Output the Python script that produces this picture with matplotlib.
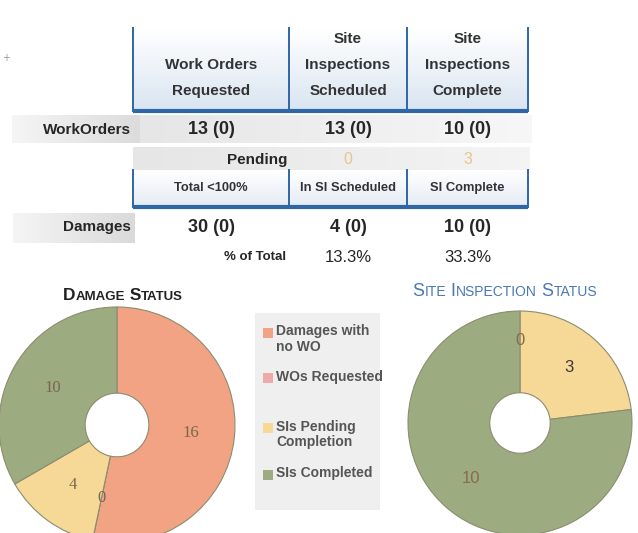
import numpy as np
import matplotlib
matplotlib.use("Agg")
import matplotlib.pyplot as plt
from matplotlib.patches import Rectangle
from matplotlib.offsetbox import TextArea, HPacker, AnnotationBbox
from matplotlib.colors import to_rgba

# ---------------- data ----------------
header_cols = [["Work Orders", "Requested"],
               ["Site", "Inspections", "Scheduled"],
               ["Site", "Inspections", "Complete"]]
workorders_vals = ["13 (0)", "13 (0)", "10 (0)"]
pending_vals = ["0", "3"]
sub_cols = ["Total <100%", "In SI Scheduled", "SI Complete"]
damages_vals = ["30 (0)", "4 (0)", "10 (0)"]
pct_vals = ["13.3%", "33.3%"]

damage_labels = ["Damages with no WO", "WOs Requested", "SIs Pending Completion", "SIs Completed"]
damage_values = [16, 0, 4, 10]
legend_text = ["Damages with\nno WO", "WOs Requested", "SIs Pending\nCompletion", "SIs Completed"]
site_values = [0, 3, 10]

col_salmon = "#f2a384"
col_pink = "#f0a9a9"
col_yellow = "#f6d897"
col_green = "#9dab80"
damage_colors = [col_salmon, col_pink, col_yellow, col_green]
site_colors = [col_salmon, col_yellow, col_green]

W, H = 638, 533
fig = plt.figure(figsize=(W / 100, H / 100), dpi=100)
fig.patch.set_facecolor("white")
ax = fig.add_axes([0, 0, 1, 1])
ax.set_xlim(0, W)
ax.set_ylim(H, 0)
ax.axis("off")

FN = ["Liberation Sans", "DejaVu Sans"]
blue = "#2f66a6"
txt = "#262626"


def grad(x0, x1, y0, y1, c0, c1, vertical=True, z=0):
    n = 64
    a0 = np.array(to_rgba(c0))
    a1 = np.array(to_rgba(c1))
    t = np.linspace(0, 1, n)
    g = a0[None, :] * (1 - t[:, None]) + a1[None, :] * t[:, None]
    img = g[:, None, :] if vertical else g[None, :, :]
    ax.imshow(img, extent=(x0, x1, y1, y0), origin="upper", aspect="auto",
              interpolation="bilinear", zorder=z)


# column geometry
xs = [133, 289, 407, 528]
cx = [(xs[i] + xs[i + 1]) / 2 for i in range(3)]

# header block
grad(xs[0], xs[3], 28, 111, "#ffffff", "#d9e5f1", z=0)
for x in xs:
    ax.plot([x, x], [28, 111], color=blue, lw=1.4, zorder=2)
ax.plot([xs[0], xs[3]], [111, 111], color=blue, lw=3, zorder=2, solid_capstyle="butt")
for c, lines in zip(cx, header_cols):
    n = len(lines)
    for i, line in enumerate(lines):
        y = 91 - 26 * (n - 1 - i)
        ax.text(c, y, line, ha="center", va="center", fontsize=11, family=FN,
                fontweight="bold", color="#333333")

# WorkOrders row
grad(12, 140, 115, 143, "#f5f5f5", "#dcdcdc", vertical=False, z=0)
grad(140, 532, 115, 143, "#e6e6e6", "#f7f7f7", vertical=False, z=0)
ax.text(131, 130, "WorkOrders", ha="right", va="center", fontsize=11, family=FN,
        fontweight="bold", color=txt)
for c, v in zip(cx, workorders_vals):
    ax.text(c, 130, v, ha="center", va="center", fontsize=13, family=FN,
            fontweight="bold", color=txt)

# Pending row
grad(133, 530, 147, 170, "#e6e6e6", "#f4f4f4", vertical=False, z=0)
ax.text(287, 160, "Pending", ha="right", va="center", fontsize=11, family=FN,
        fontweight="bold", color=txt)
for c, v in zip(cx[1:], pending_vals):
    ax.text(c, 160, v, ha="center", va="center", fontsize=11.5, family=FN, color="#e6c68a")

# sub header block
grad(xs[0], xs[3], 170, 207, "#ffffff", "#e4ecf5", z=0)
for x in xs:
    ax.plot([x, x], [170, 207], color=blue, lw=1.4, zorder=2)
ax.plot([xs[0], xs[3]], [207, 207], color=blue, lw=3, zorder=2, solid_capstyle="butt")
for c, t in zip(cx, sub_cols):
    ax.text(c, 188, t, ha="center", va="center", fontsize=9.3, family=FN,
            fontweight="bold", color="#333333")

# Damages row
grad(13, 135, 213, 243, "#f5f5f5", "#dadada", vertical=False, z=0)
ax.text(131, 227, "Damages", ha="right", va="center", fontsize=11, family=FN,
        fontweight="bold", color=txt)
for c, v in zip(cx, damages_vals):
    ax.text(c, 227, v, ha="center", va="center", fontsize=13, family=FN,
            fontweight="bold", color=txt)

# % of Total row
ax.text(286, 257, "% of Total", ha="right", va="center", fontsize=9.5, family=FN,
        fontweight="bold", color=txt)
for c, v in zip(cx[1:], pct_vals):
    ax.text(c, 257, v, ha="center", va="center", fontsize=12, family=FN, color=txt)

ax.text(6, 58, "+", ha="center", va="center", fontsize=7, color="#999999")


# small-caps titles
def smallcaps(x, y, words, color, big=13, small=10, weight="normal"):
    parts = []
    for i, w in enumerate(words):
        lead = (" " if i else "") + w[0]
        parts.append(TextArea(lead, textprops=dict(fontsize=big, family=FN, color=color,
                                                    fontweight=weight)))
        parts.append(TextArea(w[1:], textprops=dict(fontsize=small, family=FN, color=color,
                                                     fontweight=weight)))
    pack = HPacker(children=parts, align="baseline", pad=0, sep=0)
    ab = AnnotationBbox(pack, (x, y), xycoords="data", frameon=False,
                        box_alignment=(0.5, 0.5), pad=0)
    ax.add_artist(ab)


smallcaps(123, 296, ["DAMAGE", "STATUS"], "#222222", big=12.5, small=9.5, weight="bold")
smallcaps(505, 291, ["SITE", "INSPECTION", "STATUS"], "#4a78b4", big=13, small=10)

# legend panel
ax.add_patch(Rectangle((255, 313), 125, 197, facecolor="#efefef", edgecolor="none", zorder=0))
leg_y = [333, 378, 428, 475]
for y, lab, col in zip(leg_y, legend_text, damage_colors):
    ax.add_patch(Rectangle((263, y - 5), 10, 10, facecolor=col, edgecolor="none", zorder=2))
    ax.text(276, y - 8.5, lab, ha="left", va="top", fontsize=10, family=FN,
            fontweight="bold", color="#555555", linespacing=1.1)


# donuts
def donut(cx_, cy_, R, values, colors, pctd=0.63):
    a = fig.add_axes([(cx_ - R) / W, (H - cy_ - R) / H, 2 * R / W, 2 * R / H])
    tot = sum(values)
    wedges, _, autotexts = a.pie(
        values, colors=colors, startangle=90, counterclock=False,
        wedgeprops=dict(width=0.73, edgecolor="#8c8c70", linewidth=0.8),
        autopct=lambda p: f"{round(p * tot / 100)}", pctdistance=pctd, radius=1)
    a.set_xlim(-1, 1)
    a.set_ylim(-1, 1)
    a.axis("off")
    return autotexts


tL = donut(117, 425, 118, damage_values, damage_colors)
for t in tL:
    t.set_fontfamily(["Liberation Serif", "DejaVu Serif"])
    t.set_fontsize(12)
    t.set_color("#7a6552")

tR = donut(520, 423, 112, site_values, site_colors, pctd=0.66)
tR[0].set_position((0.0, 0.74))
for t in tR:
    t.set_fontfamily(["Liberation Sans", "DejaVu Sans"])
    t.set_fontsize(12)
    t.set_color("#8a6a48")
tR[1].set_color("#3a3a3a")

fig.savefig("out.png", dpi=100)
